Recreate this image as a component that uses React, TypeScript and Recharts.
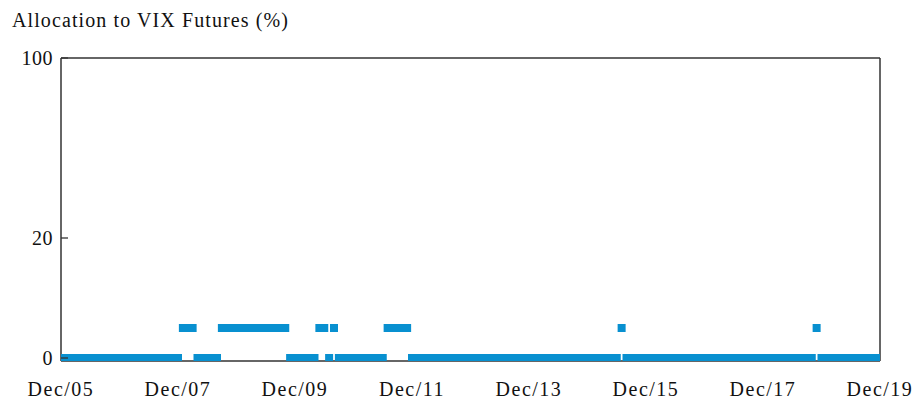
import React from 'react';
import { ScatterChart, Scatter, XAxis, YAxis, ReferenceLine } from 'recharts';

// Monthly allocation to VIX futures (%), month 0 = Dec/05 ... month 168 = Dec/19
const allocation: number[] = [
  0, 0, 0, 0, 0, 0, 0, 0, 0, 0, 0, 0,
  0, 0, 0, 0, 0, 0, 0, 0, 0, 0, 0, 0,
  0, 5, 5, 5, 0, 0, 0, 0, 0, 5, 5, 5,
  5, 5, 5, 5, 5, 5, 5, 5, 5, 5, 5, 0,
  0, 0, 0, 0, 0, 5, 5, 0, 5, 0, 0, 0,
  0, 0, 0, 0, 0, 0, 0, 5, 5, 5, 5, 5,
  0, 0, 0, 0, 0, 0, 0, 0, 0, 0, 0, 0,
  0, 0, 0, 0, 0, 0, 0, 0, 0, 0, 0, 0,
  0, 0, 0, 0, 0, 0, 0, 0, 0, 0, 0, 0,
  0, 0, 0, 0, 0, 0, 0, 5, 0, 0, 0, 0,
  0, 0, 0, 0, 0, 0, 0, 0, 0, 0, 0, 0,
  0, 0, 0, 0, 0, 0, 0, 0, 0, 0, 0, 0,
  0, 0, 0, 0, 0, 0, 0, 0, 0, 0, 0, 5,
  0, 0, 0, 0, 0, 0, 0, 0, 0, 0, 0, 0,
  0,
];

const xTickMonths = [0, 24, 48, 72, 96, 120, 144, 168];
const xTickLabels = ['Dec/05', 'Dec/07', 'Dec/09', 'Dec/11', 'Dec/13', 'Dec/15', 'Dec/17', 'Dec/19'];
const yTickValues = [0, 20, 100];
const title = 'Allocation to VIX Futures (%)';

// The original axis is piecewise: 0–20 gets 120 units, 20–100 gets 180 units.
const toDisplay = (v: number) => (v <= 20 ? v * 6 : 120 + (v - 20) * 2.25);

const data = allocation.map((v, i) => ({ month: i, alloc: v, y: toDisplay(v) }));
const yTicksDisplay = yTickValues.map(toDisplay);
const xMax = xTickMonths[xTickMonths.length - 1];
const yMax = toDisplay(yTickValues[yTickValues.length - 1]);

const FONT = '"Liberation Serif", "DejaVu Serif", serif';
const BLUE = '#0890d0';
const AXIS = '#333333';

const Square = (props: any) => {
  const { cx, cy } = props;
  if (cx == null || cy == null) return null;
  return <rect x={cx - 4} y={cy - 4} width={8} height={8} fill={BLUE} />;
};

const YTick = (props: any) => {
  const { x, y, payload } = props;
  const idx = yTicksDisplay.indexOf(payload.value);
  const label = idx >= 0 ? String(yTickValues[idx]) : '';
  return (
    <g>
      <line x1={x + 8} x2={x + 15} y1={y} y2={y} stroke={AXIS} strokeWidth={1.3} />
      <text
        x={x}
        y={y}
        dy="0.35em"
        textAnchor="end"
        fontFamily={FONT}
        fontSize={20}
        letterSpacing={0.5}
        fill="#111"
      >
        {label}
      </text>
    </g>
  );
};

export default function App() {
  return (
    <div style={{ position: 'absolute', left: 0, top: 0, width: 913, height: 400, background: '#fff' }}>
      <div
        style={{
          position: 'absolute',
          left: 12,
          top: 10,
          fontFamily: FONT,
          fontSize: 20,
          lineHeight: '20px',
          letterSpacing: 1.1,
          color: '#111',
          whiteSpace: 'nowrap',
        }}
      >
        {title}
      </div>
      <ScatterChart width={913} height={400} margin={{ top: 58, right: 33, left: 0, bottom: 9 }}>
        <XAxis
          xAxisId="b"
          type="number"
          dataKey="month"
          domain={[0, xMax]}
          ticks={xTickMonths}
          allowDataOverflow
          tickFormatter={(v: number) => xTickLabels[xTickMonths.indexOf(v)] ?? ''}
          tickLine={false}
          tickSize={0}
          tickMargin={21}
          height={30}
          axisLine={{ stroke: AXIS, strokeWidth: 1.5 }}
          tick={{ fontFamily: FONT, fontSize: 20, fill: '#111', letterSpacing: 1.5 }}
          interval={0}
        />
        <YAxis
          yAxisId="l"
          type="number"
          dataKey="y"
          domain={[-3, yMax]}
          ticks={yTicksDisplay}
          allowDataOverflow
          width={61}
          tickLine={false}
          tickSize={0}
          tickMargin={8}
          axisLine={{ stroke: AXIS, strokeWidth: 1.5 }}
          tick={<YTick />}
          interval={0}
        />
        <ReferenceLine xAxisId="b" yAxisId="l" y={yMax} stroke={AXIS} strokeWidth={1.5} ifOverflow="visible" />
        <ReferenceLine xAxisId="b" yAxisId="l" x={xMax} stroke={AXIS} strokeWidth={1.5} ifOverflow="visible" />
        <Scatter
          name="Allocation to VIX Futures"
          data={data}
          xAxisId="b"
          yAxisId="l"
          dataKey="y"
          shape={<Square />}
          isAnimationActive={false}
        />
      </ScatterChart>
    </div>
  );
}
